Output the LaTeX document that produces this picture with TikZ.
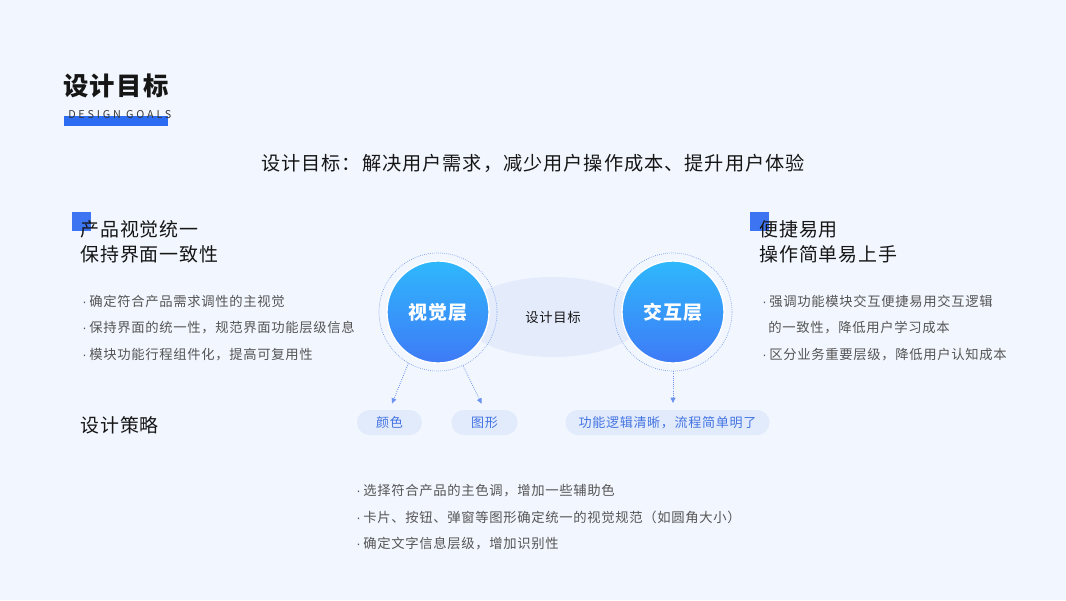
\documentclass[tikz,border=0pt]{standalone}
\usepackage{fontspec}
\setmainfont{Noto Sans CJK SC}[LetterSpace=5]
\newfontfamily\widefont{Noto Sans CJK SC}[LetterSpace=26]
\newfontfamily\dotfont{Liberation Sans}
\usepackage{xcolor}
\usetikzlibrary{positioning,arrows.meta,shapes.geometric}
\definecolor{bgblue}{HTML}{F2F6FE}
\definecolor{inkblack}{HTML}{161616}
\definecolor{bulletgray}{HTML}{555555}
\definecolor{accent}{HTML}{2B6CF3}
\definecolor{squareblue}{HTML}{3C74F2}
\definecolor{pillfill}{HTML}{E2EBFC}
\definecolor{pilltext}{HTML}{4474E2}
\definecolor{ovalfill}{HTML}{E4ECFC}
\definecolor{ringblue}{HTML}{6A93F0}
\definecolor{circtop}{HTML}{2FB8FC}
\definecolor{circbot}{HTML}{3E7AF7}
\newcommand{\pt}{{\dotfont ·}\hspace{2pt}}

\begin{document}
\begin{tikzpicture}[x=0.75pt, y=-0.75pt,
    heading/.style={anchor=west, inner sep=0pt, align=left, text=inkblack,
                    font=\fontsize{14.2}{18.75}\selectfont},
    bullet/.style={anchor=west, inner sep=0pt, text=bulletgray,
                   font=\fontsize{10}{12}\selectfont},
    pill/.style={fill=pillfill, rounded corners=9.3pt, minimum height=18.75pt,
                 inner sep=0pt, text=pilltext, font=\fontsize{9.8}{12}\selectfont},
    layer/.style={circle, minimum size=76.5pt, inner sep=0pt, draw=white,
                  line width=1pt, top color=circtop, bottom color=circbot,
                  text=white, font=\fontsize{14.2}{16}\selectfont\bfseries},
    ring/.style={circle, minimum size=88.5pt, inner sep=0pt, draw=ringblue,
                 densely dotted, line width=0.5pt},
    arr/.style={densely dotted, ringblue, line width=0.6pt,
                -{Triangle[length=4pt, width=3.6pt]}, shorten >=5pt}
]
  % background
  \fill[bgblue] (0,0) rectangle (1066,600);

  % page title
  \node[anchor=west, inner sep=0pt, text=inkblack,
        font=\fontsize{19}{20}\selectfont\bfseries] (title) at (63,86) {设计目标};
  \fill[accent] (64,116) rectangle (168,126);
  \node[anchor=west, inner sep=0pt, text=inkblack!85,
        font=\fontsize{8.1}{9}\widefont] (subtitle) at (68,115) {DESIGN\ GOALS};

  \node[inner sep=0pt, text=inkblack, font=\fontsize{14.4}{16}\selectfont]
    (goalline) at (533,163) {设计目标：解决用户需求，减少用户操作成本、提升用户体验};

  % left column
  \fill[squareblue] (72,212) rectangle (91,231);
  \node[heading] (lhead) at (80,241.5) {产品视觉统一\\保持界面一致性};
  \node[bullet] (lb1) at (82,301) {\pt 确定符合产品需求调性的主视觉};
  \node[bullet] (lb2) at (82,328) {\pt 保持界面的统一性，规范界面功能层级信息};
  \node[bullet] (lb3) at (82,355) {\pt 模块功能行程组件化，提高可复用性};
  \node[heading] (strategy) at (80,425) {设计策略};

  % right column
  \fill[squareblue] (750,212) rectangle (769,231);
  \node[heading] (rhead) at (759,241.5) {便捷易用\\操作简单易上手};
  \node[bullet] (rb1) at (762,301) {\pt 强调功能模块交互便捷易用交互逻辑};
  \node[bullet] (rb2) at (768,328) {的一致性，降低用户学习成本};
  \node[bullet] (rb3) at (762,355) {\pt 区分业务重要层级，降低用户认知成本};

  % centre
  \node[ellipse, fill=ovalfill, minimum width=136.5pt, minimum height=60pt,
        inner sep=0pt, text=inkblack, font=\fontsize{10}{12}\selectfont]
    (goal) at (553,317) {设计目标};
  \node[ring] (vring) at (438,312) {};
  \node[ring] (iring) at (673,312) {};
  \node[layer] (vlayer) at (438,312) {视觉层};
  \node[layer] (ilayer) at (673,312) {交互层};

  % tags
  \node[pill, minimum width=48.75pt] (color) at (389.5,422.5) {颜色};
  \node[pill, minimum width=49.5pt] (shape) at (484.5,422.5) {图形};
  \node[pill, minimum width=153pt] (logic) at (667.5,422.5) {功能逻辑清晰，流程简单明了};

  \draw[arr] (vring.240) -- (color.north);
  \draw[arr] (vring.295) -- (shape.north);
  \draw[arr] (iring.south) -- (iring.south |- logic.north);

  % strategy notes
  \node[bullet] (sb1) at (356,491) {\pt 选择符合产品的主色调，增加一些辅助色};
  \node[bullet] (sb2) at (356,517) {\pt 卡片、按钮、弹窗等图形确定统一的视觉规范（如圆角大小）};
  \node[bullet] (sb3) at (356,544) {\pt 确定文字信息层级，增加识别性};
\end{tikzpicture}
\end{document}
